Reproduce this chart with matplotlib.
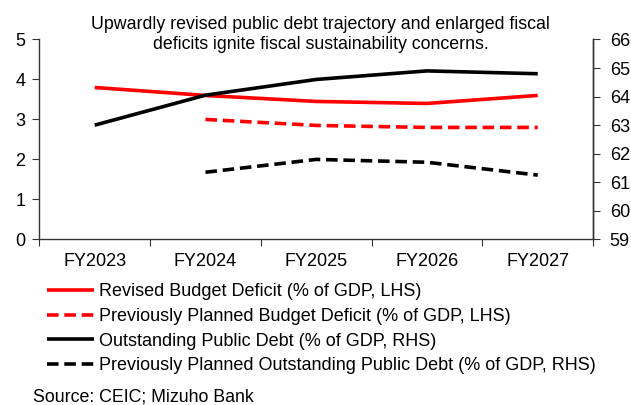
import numpy as np
import matplotlib
matplotlib.use("Agg")
import matplotlib.pyplot as plt
from matplotlib.ticker import FixedLocator, NullFormatter

plt.rcParams['font.family'] = ['Liberation Sans', 'DejaVu Sans']

years = ["FY2023", "FY2024", "FY2025", "FY2026", "FY2027"]
revised_deficit = [3.8, 3.6, 3.45, 3.4, 3.6]
planned_deficit = [np.nan, 3.0, 2.85, 2.8, 2.8]
public_debt = [63.0, 64.05, 64.6, 64.9, 64.8]
planned_debt = [np.nan, 61.35, 61.8, 61.7, 61.25]

title = ("Upwardly revised public debt trajectory and enlarged fiscal\n"
         "deficits ignite fiscal sustainability concerns.")
labels = ["Revised Budget Deficit (% of GDP, LHS)",
          "Previously Planned Budget Deficit (% of GDP, LHS)",
          "Outstanding Public Debt (% of GDP, RHS)",
          "Previously Planned Outstanding Public Debt (% of GDP, RHS)"]

fig = plt.figure(figsize=(6.31, 4.05), dpi=100)
ax = fig.add_axes([0.0623, 0.409, 0.8777, 0.4935])
ax2 = ax.twinx()

x = np.arange(len(years))
lw = 2.6
dash = (3.2, 1.6)
l1, = ax.plot(x, revised_deficit, color="#ff0000", lw=lw, solid_capstyle="butt")
l2, = ax.plot(x, planned_deficit, color="#ff0000", lw=lw, dashes=dash)
l3, = ax2.plot(x, public_debt, color="black", lw=lw, solid_capstyle="butt")
l4, = ax2.plot(x, planned_debt, color="black", lw=lw, dashes=dash)

ax.set_xlim(-0.5, len(years) - 0.5)
ax.set_ylim(0, 5)
ax2.set_ylim(59, 66)
ax.set_yticks(range(0, 6))
ax2.set_yticks(range(59, 67))

# category boundaries get the tick marks, labels sit in between
ax.xaxis.set_major_locator(FixedLocator(np.arange(-0.5, len(years), 1.0)))
ax.xaxis.set_major_formatter(NullFormatter())
ax.xaxis.set_minor_locator(FixedLocator(x))
ax.set_xticklabels(years, minor=True)
ax.tick_params(axis="x", which="major", direction="out", length=5, color="#333333")
ax.tick_params(axis="x", which="minor", length=0, pad=10, labelsize=13)
ax.tick_params(axis="y", direction="out", length=5, pad=5, labelsize=13, color="#333333")
ax2.tick_params(axis="y", direction="out", length=5, pad=7, labelsize=13, color="#333333")

for a in (ax, ax2):
    a.spines["top"].set_visible(False)
    for s in a.spines.values():
        s.set_color("#333333")
        s.set_linewidth(1.0)
ax2.spines["left"].set_visible(False)
ax2.spines["bottom"].set_visible(False)

fig.text(0.508, 0.96, title, ha="center", va="top", fontsize=12.8, linespacing=1.22)

fig.legend([l1, l2, l3, l4], labels, loc="upper left",
           bbox_to_anchor=(0.075, 0.300), frameon=False, fontsize=13,
           handlelength=2.6, handletextpad=0.25, labelspacing=0.42,
           borderpad=0, borderaxespad=0)

fig.text(0.052, 0.025, "Source: CEIC; Mizuho Bank", ha="left", va="center_baseline",
         fontsize=12.8)

fig.savefig("out.png", dpi=100)
